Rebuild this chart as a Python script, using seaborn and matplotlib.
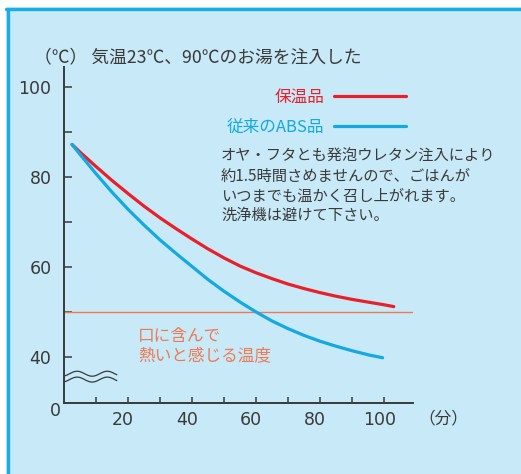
import numpy as np
import pandas as pd
import matplotlib
matplotlib.use("Agg")
import matplotlib.pyplot as plt
import matplotlib.transforms as mtransforms
from matplotlib.patches import Rectangle
import seaborn as sns

# values
elapsed_min = [2.5, 5, 10, 15, 20, 25, 30, 35, 40, 45, 50, 55, 60, 65, 70, 75, 80, 85,
               90, 95, 100, 103]
temp_insulated = [87.2, 85.5, 82.3, 79.2, 76.3, 73.5, 70.9, 68.5, 66.2, 64.0, 62.0, 60.2,
                  58.7, 57.4, 56.2, 55.2, 54.3, 53.5, 52.8, 52.2, 51.6, 51.2]
elapsed_min_abs = [2.5, 5, 10, 15, 20, 25, 30, 35, 40, 45, 50, 55, 60, 65, 70, 75, 80, 85,
                   90, 95, 99.5]
temp_abs = [87.2, 85.0, 80.7, 76.6, 72.8, 69.3, 66.0, 63.0, 60.1, 57.2, 54.6, 52.2, 50.0,
            48.0, 46.3, 44.8, 43.5, 42.4, 41.4, 40.5, 39.85]
hot_threshold = 50
series_names = ["保温品", "従来のABS品"]
y_major = [40, 60, 80, 100]
y_minor = [50, 70, 90]
x_major = [20, 40, 60, 80, 100]
x_minor = [10, 30, 50, 70, 90]

W, H = 521, 474
RED = "#e8202a"
BLUE = "#12a9e4"
ORANGE = "#ee7a52"
BG = "#c8e9f8"
INK = "#3a3a3a"

sns.set_theme(style="white")
plt.rcParams["font.family"] = ["Noto Sans CJK JP", "DejaVu Sans"]

fig = plt.figure(figsize=(W / 100, H / 100), dpi=100, facecolor="white")


def fx(px):
    return px / W


def fy(py):
    return 1 - py / H


# light blue panel with a blue frame at top and left
fig.patches.append(Rectangle((fx(6), 0), 1, fy(7), transform=fig.transFigure,
                             facecolor=BG, edgecolor="none", zorder=-10))
fig.add_artist(plt.Line2D([fx(7.5), fx(7.5)], [0, fy(8.5)], transform=fig.transFigure,
                          color="#18ade8", lw=2.4, zorder=-5))
fig.add_artist(plt.Line2D([fx(6), 1], [fy(8.5), fy(8.5)], transform=fig.transFigure,
                          color="#18ade8", lw=2.4, zorder=-5))

ax = fig.add_axes([fx(64), fy(403), fx(413) - fx(64), fy(67) - fy(403)])
ax.set_facecolor("none")

df = pd.concat([
    pd.DataFrame({"min": elapsed_min, "temp": temp_insulated, "kind": series_names[0]}),
    pd.DataFrame({"min": elapsed_min_abs, "temp": temp_abs, "kind": series_names[1]}),
])
sns.lineplot(data=df, x="min", y="temp", hue="kind", palette=[RED, BLUE],
             lw=2.3, ax=ax, sort=False, estimator=None)

ax.axhline(hot_threshold, color=ORANGE, lw=1.0, zorder=1)

# wavy axis-break mark
wx = np.linspace(0, 16.5, 80)
for c in (36.3, 35.0):
    ax.plot(wx, c + 0.55 * np.sin(2 * np.pi * (wx - 1.75) / 9.4), color=INK, lw=0.9,
            clip_on=False)

ax.set_xlim(0, 109)
ax.set_ylim(29.8, 104.4)
for s in ("top", "right"):
    ax.spines[s].set_visible(False)
for s in ("left", "bottom"):
    ax.spines[s].set_color(INK)
    ax.spines[s].set_linewidth(1.4)

ax.set_yticks(y_major)
ax.set_yticks(y_minor, minor=True)
ax.set_xticks(x_major)
ax.set_xticks(x_minor, minor=True)
ax.tick_params(axis="y", which="both", direction="in", length=6, width=1.1, color=INK,
               left=True, labelsize=12.5, labelcolor=INK, pad=9,
               labelfontfamily="DejaVu Sans")
ax.tick_params(axis="x", which="both", direction="in", length=4.5, width=1.1, color=INK,
               bottom=True, labelsize=12.5, labelcolor=INK, pad=6,
               labelfontfamily="DejaVu Sans")
shift = mtransforms.ScaledTranslation(-5 / 100, 0, fig.dpi_scale_trans)
for lab in ax.get_xticklabels():
    lab.set_transform(lab.get_transform() + shift)
ax.set_xlabel("")
ax.set_ylabel("")

handles, labels = ax.get_legend_handles_labels()
leg = ax.legend(handles, labels, loc="upper right", frameon=False, markerfirst=False,
                bbox_to_anchor=(fx(406), fy(89)), bbox_transform=fig.transFigure,
                borderaxespad=0, borderpad=0, handlelength=4.3, handletextpad=0.6,
                labelspacing=0.75, fontsize=12, labelcolor="linecolor")

fig.text(fx(55), fy(411), "0", ha="center", va="center", fontsize=12.5, color=INK,
         family="DejaVu Sans")
fig.text(fx(418), fy(419), "（分）", ha="left", va="center", fontsize=12, color=INK)
fig.text(fx(34), fy(57), "（℃） 気温23℃、90℃のお湯を注入した", ha="left", va="center",
         fontsize=12.8, color=INK)
fig.text(fx(221), fy(186), "オヤ・フタとも発泡ウレタン注入により\n約1.5時間さめませんので、ごはんが\n"
         "いつまでも温かく召し上がれます。\n洗浄機は避けて下さい。",
         ha="left", va="center", fontsize=11, color=INK, linespacing=1.2)
fig.text(fx(138), fy(346), "口に含んで\n熱いと感じる温度", ha="left", va="center",
         fontsize=12, color=ORANGE, linespacing=1.15)

fig.savefig("out.png", dpi=100, facecolor="white")
